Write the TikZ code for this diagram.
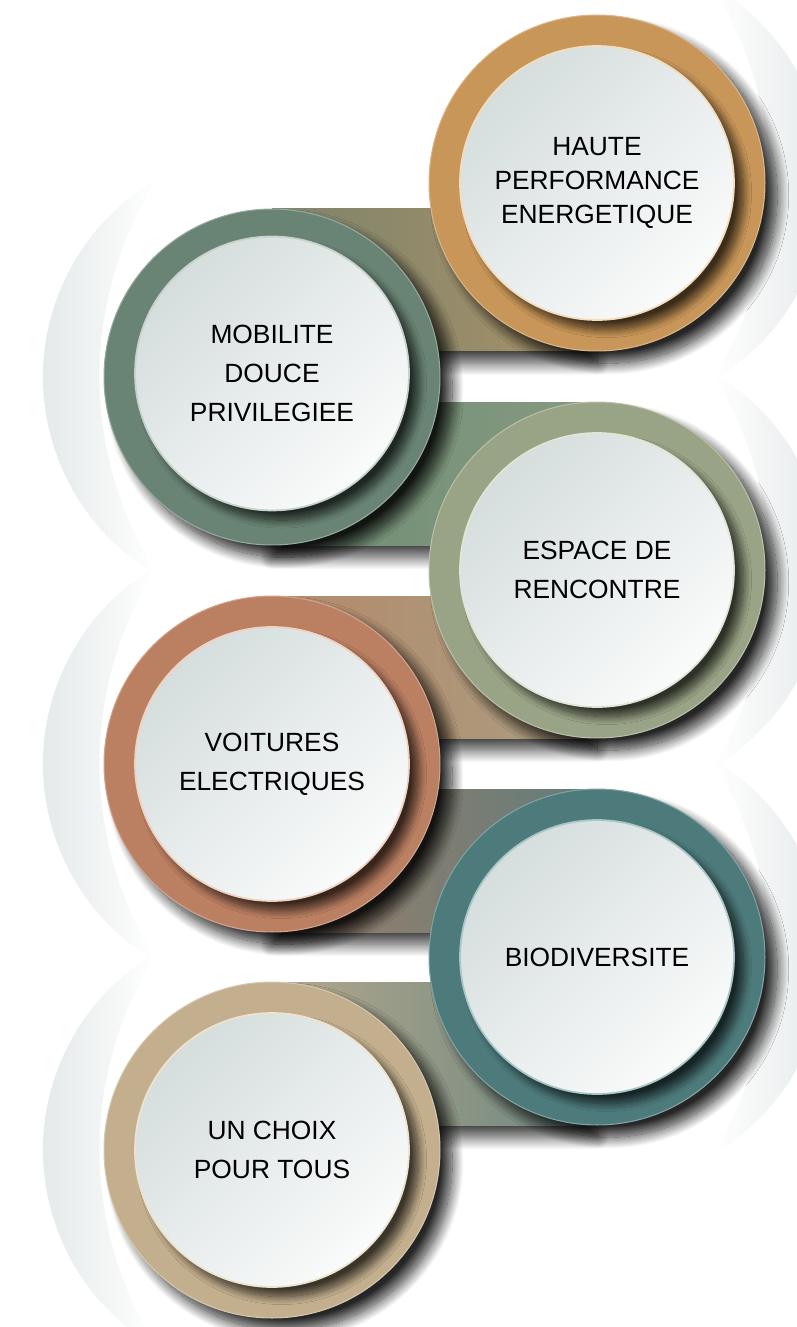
\documentclass[tikz,border=0pt]{standalone}
\usepackage{fontspec}
\setmainfont{Liberation Sans}
\usepackage{tikz}
\usetikzlibrary{calc, shadows.blur}

\definecolor{halogrey}{HTML}{DDE3E3}
\definecolor{discdark}{HTML}{D5DDDD}
\definecolor{disclight}{HTML}{FAFBFB}
\definecolor{hauteRing}{HTML}{C89658}
\definecolor{hauteRim}{HTML}{F2DDBF}
\definecolor{mobiliteRing}{HTML}{698475}
\definecolor{mobiliteRim}{HTML}{C6D2CB}
\definecolor{espaceRing}{HTML}{99A486}
\definecolor{espaceRim}{HTML}{E1E5D6}
\definecolor{voituresRing}{HTML}{BB7F62}
\definecolor{voituresRim}{HTML}{F0D2C0}
\definecolor{biodivRing}{HTML}{4D7A7B}
\definecolor{biodivRim}{HTML}{A9C6C6}
\definecolor{choixRing}{HTML}{C3AF8D}
\definecolor{choixRim}{HTML}{EEE3CF}
\definecolor{bandAL}{HTML}{7E836C}
\definecolor{bandAR}{HTML}{A89268}
\definecolor{bandBL}{HTML}{6E8B76}
\definecolor{bandBR}{HTML}{869B7F}
\definecolor{bandCL}{HTML}{B5896A}
\definecolor{bandCR}{HTML}{A99E82}
\definecolor{bandDL}{HTML}{9E7F6B}
\definecolor{bandDR}{HTML}{617C7A}
\definecolor{bandEL}{HTML}{B3A88C}
\definecolor{bandER}{HTML}{6C8680}

\tikzstyle{haloleft} = [left color=halogrey, right color=white]
\tikzstyle{haloright} = [left color=white, right color=halogrey]
\tikzstyle{band} = [blur shadow={shadow xshift=0pt, shadow yshift=-7pt,
    shadow blur radius=7pt, shadow opacity=75, shadow blur steps=18}]
\tikzstyle{ring} = [circle, minimum size=6.72cm, inner sep=0pt, outer sep=0pt,
    line width=0.6pt, blur shadow={shadow xshift=7pt, shadow yshift=-7pt,
    shadow blur radius=6.5pt, shadow opacity=85, shadow blur steps=20}]
\tikzstyle{disc} = [circle, minimum size=5.48cm, inner sep=0pt, outer sep=0pt,
    line width=1pt, top color=discdark, bottom color=disclight, shading angle=45,
    align=center, text=black, font=\fontsize{15}{22}\selectfont,
    blur shadow={shadow xshift=5.5pt, shadow yshift=-5.5pt,
    shadow blur radius=4.5pt, shadow opacity=70, shadow blur steps=16}]

\begin{document}
\begin{tikzpicture}[x=0.02cm, y=-0.02cm]
    \useasboundingbox (0,0) rectangle (796,1327);
    % Centres
    \coordinate (hauteC) at (597,183);
    \coordinate (mobiliteC) at (272,377);
    \coordinate (espaceC) at (597,570);
    \coordinate (voituresC) at (272,764);
    \coordinate (biodivC) at (597,957);
    \coordinate (choixC) at (272,1150);
    % Halos
    \shade[haloright] ($(hauteC)+(-60:229)$) arc[start angle=-60, end angle=60, radius=229]
        arc[start angle=32.65, end angle=-32.65, radius=367] -- cycle;
    \shade[haloleft] ($(mobiliteC)+(120:229)$) arc[start angle=120, end angle=240, radius=229]
        arc[start angle=212.65, end angle=147.35, radius=367] -- cycle;
    \shade[haloright] ($(espaceC)+(-60:229)$) arc[start angle=-60, end angle=60, radius=229]
        arc[start angle=32.65, end angle=-32.65, radius=367] -- cycle;
    \shade[haloleft] ($(voituresC)+(120:229)$) arc[start angle=120, end angle=240, radius=229]
        arc[start angle=212.65, end angle=147.35, radius=367] -- cycle;
    \shade[haloright] ($(biodivC)+(-60:229)$) arc[start angle=-60, end angle=60, radius=229]
        arc[start angle=32.65, end angle=-32.65, radius=367] -- cycle;
    \shade[haloleft] ($(choixC)+(120:229)$) arc[start angle=120, end angle=240, radius=229]
        arc[start angle=212.65, end angle=147.35, radius=367] -- cycle;
    % Bands
    \shade[band, left color=bandAL, right color=bandAR] ($(mobiliteC)-(0,168)$) rectangle ($(hauteC)+(0,168)$);
    \shade[band, left color=bandBL, right color=bandBR] ($(mobiliteC)+(0,168)$) rectangle ($(espaceC)-(0,168)$);
    \shade[band, left color=bandCL, right color=bandCR] ($(voituresC)-(0,168)$) rectangle ($(espaceC)+(0,168)$);
    \shade[band, left color=bandDL, right color=bandDR] ($(voituresC)+(0,168)$) rectangle ($(biodivC)-(0,168)$);
    \shade[band, left color=bandEL, right color=bandER] ($(choixC)-(0,168)$) rectangle ($(biodivC)+(0,168)$);
    % Circles
    \node[ring, fill=hauteRing, draw=hauteRing!70!white] (haute) at (hauteC) {};
    \node[disc, draw=hauteRim, font=\fontsize{15}{19.4}\selectfont] (hauteText) at (hauteC) {HAUTE\\PERFORMANCE\\ENERGETIQUE};
    \node[ring, fill=mobiliteRing, draw=mobiliteRing!70!white] (mobilite) at (mobiliteC) {};
    \node[disc, draw=mobiliteRim] (mobiliteText) at ([yshift=2pt]mobiliteC) {MOBILITE\\DOUCE\\PRIVILEGIEE};
    \node[ring, fill=espaceRing, draw=espaceRing!70!white] (espace) at (espaceC) {};
    \node[disc, draw=espaceRim] (espaceText) at (espaceC) {ESPACE DE\\RENCONTRE};
    \node[ring, fill=voituresRing, draw=voituresRing!70!white] (voitures) at (voituresC) {};
    \node[disc, draw=voituresRim] (voituresText) at (voituresC) {VOITURES\\ELECTRIQUES};
    \node[ring, fill=biodivRing, draw=biodivRing!70!white] (biodiv) at (biodivC) {};
    \node[disc, draw=biodivRim] (biodivText) at (biodivC) {BIODIVERSITE};
    \node[ring, fill=choixRing, draw=choixRing!70!white] (choix) at (choixC) {};
    \node[disc, draw=choixRim] (choixText) at (choixC) {UN CHOIX\\POUR TOUS};
\end{tikzpicture}
\end{document}
